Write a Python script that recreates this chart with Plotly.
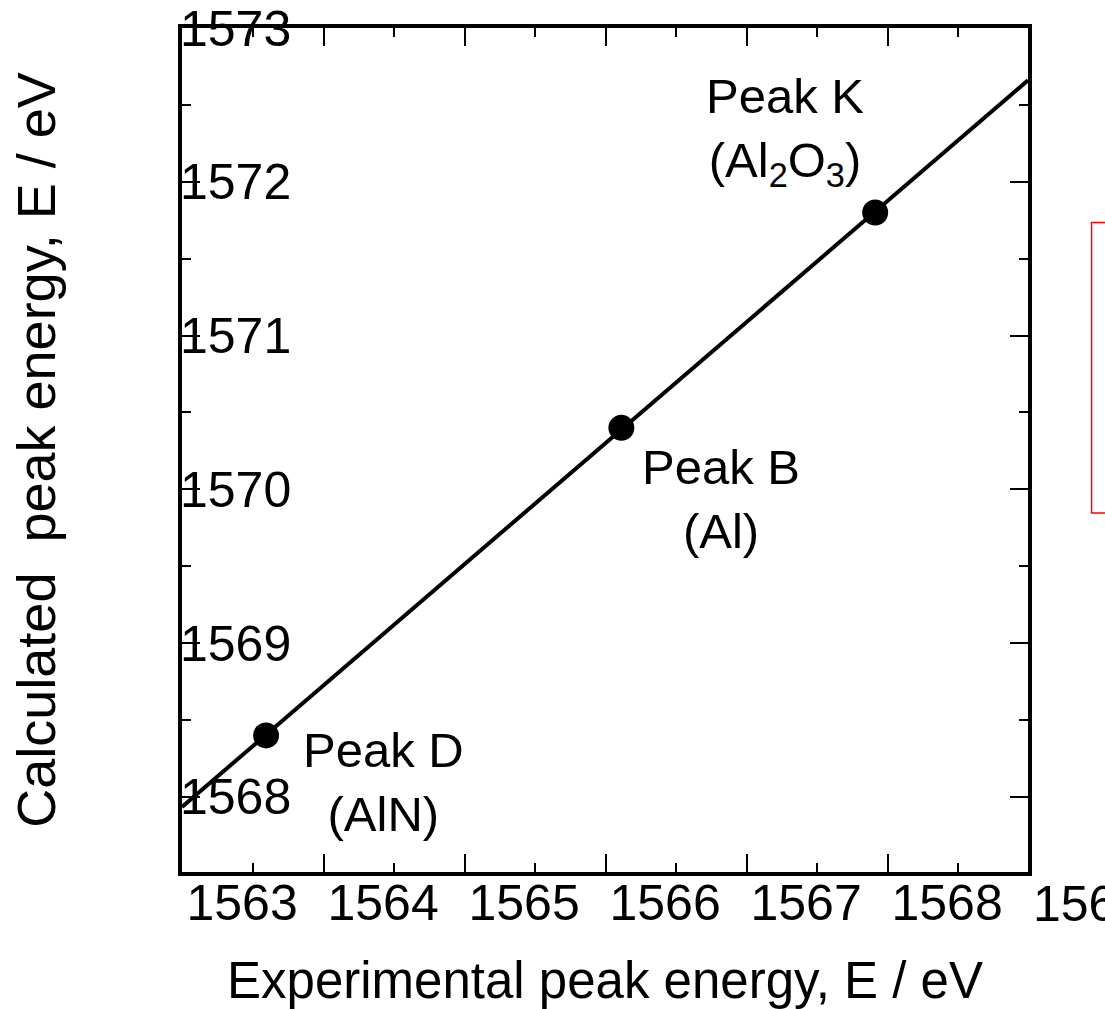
import numpy as np
import plotly.graph_objects as go

# ---- data ----
peak_names = ["Peak D", "Peak B", "Peak K"]
compounds = ["AlN", "Al", "Al<sub>2</sub>O<sub>3</sub>"]
x_exp = [1563.17, 1565.69, 1567.49]      # experimental peak energy (eV)
y_calc = [1568.40, 1570.40, 1571.80]     # calculated peak energy (eV)

x_tick_vals = [1563, 1564, 1565, 1566, 1567, 1568, 1569]
x_tick_text = ["1563", "1564", "1565", "1566", "1567", "1568", "1569"]
y_tick_vals = [1568, 1569, 1570, 1571, 1572, 1573]
y_tick_text = ["1568", "1569", "1570", "1571", "1572", "1573"]

X_RANGE = [1562.574, 1568.574]
Y_RANGE = [1567.512, 1573.0]

FONT = "Liberation Sans, Arial, sans-serif"
TICK_SIZE = 50
LABEL_SIZE = 49
TITLE_SIZE = 51

# linear fit through the points, drawn across the full x range
slope, intercept = np.polyfit(x_exp, y_calc, 1)
fit_x = np.array(X_RANGE)
fit_y = slope * fit_x + intercept

fig = go.Figure()
fig.add_trace(go.Scatter(x=fit_x, y=fit_y, mode="lines",
                         line=dict(color="black", width=4),
                         showlegend=False, hoverinfo="skip"))
fig.add_trace(go.Scatter(x=x_exp, y=y_calc, mode="markers",
                         marker=dict(color="black", size=26),
                         showlegend=False))
# empty trace so the tick-mark overlay axes exist
fig.add_trace(go.Scatter(x=[], y=[], xaxis="x2", yaxis="y2",
                         showlegend=False, hoverinfo="skip"))

# peak labels
label_pos = {  # text placement (data coords)
    "Peak D": (1564.00, 1568.10),
    "Peak B": (1566.40, 1569.94),
    "Peak K": (1566.85, 1572.33),
}
for name, comp in zip(peak_names, compounds):
    ax_, ay_ = label_pos[name]
    fig.add_annotation(x=ax_, y=ay_, xref="x", yref="y",
                       text=f"{name}<br>({comp})", showarrow=False,
                       font=dict(family=FONT, size=LABEL_SIZE, color="black"),
                       align="center", xanchor="center", yanchor="middle")

# tick labels beyond the plotted x range (clipped by the page edge)
span = X_RANGE[1] - X_RANGE[0]
for v, t in zip(x_tick_vals, x_tick_text):
    if v > X_RANGE[1]:
        fig.add_annotation(x=(v - X_RANGE[0]) / span, y=-0.038,
                           xref="paper", yref="paper",
                           text=t, showarrow=False,
                           font=dict(family=FONT, size=TICK_SIZE, color="black"),
                           xanchor="center", yanchor="middle")

in_x = [(v, t) for v, t in zip(x_tick_vals, x_tick_text) if X_RANGE[0] <= v <= X_RANGE[1]]

fig.update_layout(
    width=1105, height=1009,
    margin=dict(l=182, r=77, t=28, b=137, pad=0),
    paper_bgcolor="white", plot_bgcolor="white",
    font=dict(family=FONT, color="black"),
    showlegend=False,
    xaxis=dict(
        range=X_RANGE, tickmode="array",
        tickvals=[v for v, _ in in_x], ticktext=[t for _, t in in_x],
        ticks="", showgrid=False, zeroline=False, ticklabelstandoff=-16,
        showline=True, linecolor="black", linewidth=4, mirror=True,
        tickfont=dict(family=FONT, size=TICK_SIZE, color="black"),
        title=dict(text="Experimental peak energy, E / eV",
                   font=dict(family=FONT, size=TITLE_SIZE, color="black"), standoff=38),
        automargin=False,
    ),
    yaxis=dict(
        range=Y_RANGE, tickmode="array",
        tickvals=y_tick_vals, ticktext=y_tick_text,
        ticks="", ticklabelposition="inside", ticklabeloverflow="allow",
        ticklabelstandoff=5,
        showgrid=False, zeroline=False,
        showline=True, linecolor="black", linewidth=4, mirror=True,
        tickfont=dict(family=FONT, size=TICK_SIZE, color="black"),
        title=dict(text="Calculated\u00a0 peak energy, E / eV",
                   font=dict(family=FONT, size=54, color="black"), standoff=108),
        automargin=False,
    ),
    xaxis2=dict(
        overlaying="x", anchor="y2", side="bottom", range=X_RANGE,
        showline=False, showgrid=False, zeroline=False, showticklabels=False,
        ticks="inside", tickmode="linear", tick0=1563.58, dtick=1,
        ticklen=18, tickwidth=2, tickcolor="black", mirror="ticks",
        minor=dict(ticks="inside", dtick=0.5, tick0=1563.08, ticklen=9,
                   tickwidth=2, tickcolor="black", showgrid=False),
    ),
    yaxis2=dict(
        overlaying="y", anchor="x2", side="left", range=Y_RANGE,
        showline=False, showgrid=False, zeroline=False, showticklabels=False,
        ticks="inside", tickmode="linear", tick0=1568, dtick=1,
        ticklen=18, tickwidth=2, tickcolor="black", mirror="ticks",
        minor=dict(ticks="inside", dtick=0.5, tick0=1568, ticklen=9,
                   tickwidth=2, tickcolor="black", showgrid=False),
    ),
)

# red box at right edge (partially outside the page)
fig.add_shape(type="rect", xref="paper", yref="paper",
              x0=1.0751, x1=1.2, y0=0.4254, y1=0.7695,
              line=dict(color="red", width=1.5), fillcolor="rgba(0,0,0,0)")

fig.write_html("out.html",
               config={"displayModeBar": False},
               post_script="document.body.style.margin='0';document.body.style.overflow='hidden';")
